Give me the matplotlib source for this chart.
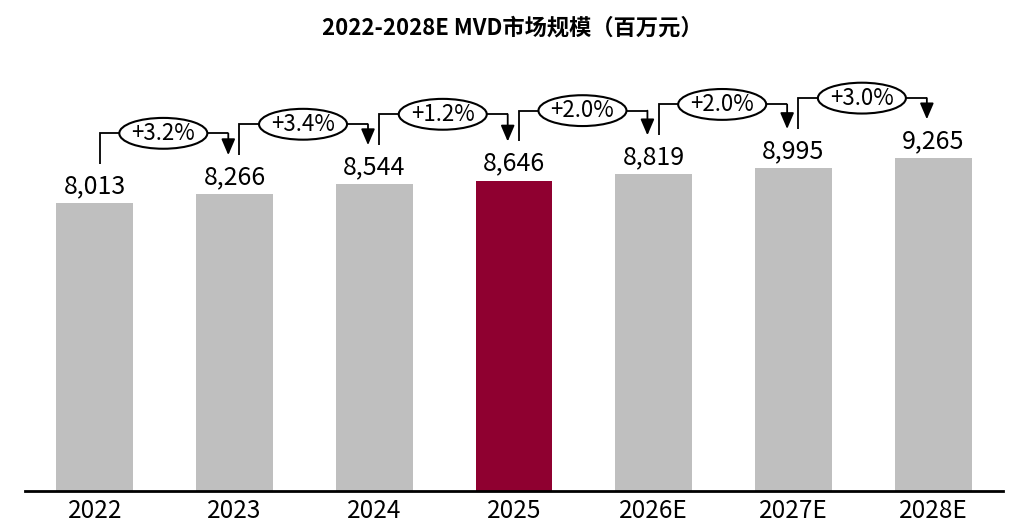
import matplotlib
matplotlib.use("Agg")
import matplotlib.pyplot as plt
from matplotlib.patches import Ellipse

plt.rcParams['font.family'] = ['Noto Sans CJK SC', 'DejaVu Sans']

categories = ["2022", "2023", "2024", "2025", "2026E", "2027E", "2028E"]
values = [8013, 8266, 8544, 8646, 8819, 8995, 9265]
growth = ["+3.2%", "+3.4%", "+1.2%", "+2.0%", "+2.0%", "+3.0%"]
highlight = "2025"
title = "2022-2028E MVD市场规模（百万元）"

GRAY = "#BFBFBF"
RED = "#8F0030"

fig = plt.figure(figsize=(10.24, 5.28), dpi=100)
ax = fig.add_axes([25/1024, 37.5/528, 978/1024, 430.2/528])

x = list(range(len(categories)))
colors = [RED if c == highlight else GRAY for c in categories]
ax.bar(x, values, width=0.55, color=colors, zorder=2)

ax.set_xlim(-0.5, len(categories) - 0.5)
ax.set_ylim(0, 12000)
ax.set_xticks(x)
ax.set_xticklabels(categories, fontsize=17.5)
ax.tick_params(axis='x', length=0, pad=5.5)
ax.set_yticks([])
for s in ['top', 'right', 'left']:
    ax.spines[s].set_visible(False)
ax.spines['bottom'].set_linewidth(2)
ax.spines['bottom'].set_color('black')

# value labels
for xi, v in zip(x, values):
    ax.text(xi, v + 280, f"{v:,}", ha='center', va='baseline', fontsize=18, zorder=5)

# growth annotations
START_OFF = 1090
LEVEL_OFF = 1950
for i, g in enumerate(growth):
    x0 = x[i] + 0.035
    x1 = x[i + 1] - 0.045
    y0 = values[i] + START_OFF
    yl = values[i] + LEVEL_OFF
    y1 = values[i + 1] + START_OFF
    ax.plot([x0, x0, x1], [y0, yl, yl], color='black', lw=1.3, zorder=3,
            solid_capstyle='butt', solid_joinstyle='miter')
    ax.annotate("", xy=(x1, y1), xytext=(x1, yl),
                arrowprops=dict(arrowstyle='-|>,head_length=0.7,head_width=0.3',
                                mutation_scale=14, lw=1.3, color='black',
                                shrinkA=0, shrinkB=0), zorder=3)
    xc = (x[i] + x[i + 1]) / 2 - 0.01
    ax.add_patch(Ellipse((xc, yl), 0.63, 860, facecolor='white',
                         edgecolor='black', lw=1.5, zorder=4))
    ax.text(xc, yl, g, ha='center', va='center', fontsize=16, zorder=5)

fig.text(0.5, 1 - 28/528, title, ha='center', va='center',
         fontsize=16, fontweight='bold')

fig.savefig("out.png", dpi=100)
